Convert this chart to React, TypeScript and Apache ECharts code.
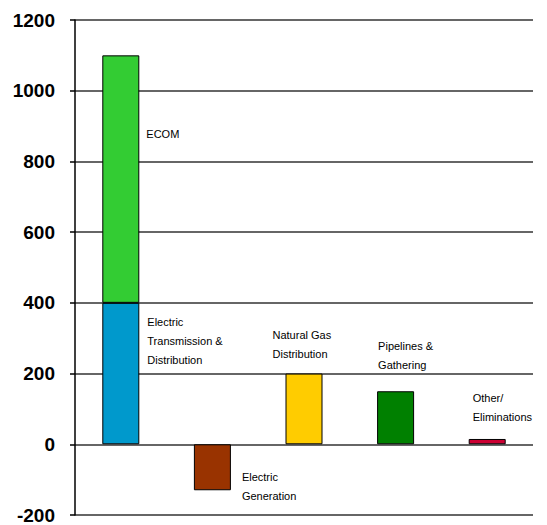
import React, { useEffect, useRef } from "react";
import * as echarts from "echarts";

const categories = [
  "Electric Transmission & Distribution",
  "Electric Generation",
  "Natural Gas Distribution",
  "Pipelines & Gathering",
  "Other/ Eliminations",
];
const segmentValues = [400, -130, 200, 150, 15];
const segmentColors = ["#0099CC", "#993300", "#FFCC00", "#008000", "#CC0033"];
const segmentLabels = [
  "Electric\nTransmission &\nDistribution",
  "Electric\nGeneration",
  "Natural Gas\nDistribution",
  "Pipelines &\nGathering",
  "Other/\nEliminations",
];
const labelOffsets: [number, number][] = [
  [45, 10],
  [48, 23],
  [-13, -48],
  [1, -55],
  [4, -50],
];
const ecomValues = [700, null, null, null, null];
const ecomLabel = "ECOM";
const yTicks = { min: -200, max: 1200, interval: 200 };

const FONT = "Arial, 'Liberation Sans', sans-serif";

export default function App() {
  const ref = useRef<HTMLDivElement>(null);
  useEffect(() => {
    if (!ref.current) return;
    const chart = echarts.init(ref.current, null, { renderer: "svg" });
    const labelStyle = {
      show: true,
      color: "#000",
      fontSize: 11,
      fontFamily: FONT,
      lineHeight: 19,
      align: "left" as const,
      verticalAlign: "top" as const,
    };
    chart.setOption({
      animation: false,
      grid: { left: 75, right: 14, top: 20, bottom: 10 },
      xAxis: {
        type: "category",
        data: categories,
        axisLine: { show: false },
        axisTick: { show: false },
        axisLabel: { show: false },
        splitLine: { show: false },
      },
      yAxis: {
        type: "value",
        min: yTicks.min,
        max: yTicks.max,
        interval: yTicks.interval,
        axisLine: { show: true, lineStyle: { color: "#000", width: 1.5 } },
        axisTick: { show: true, length: 5, lineStyle: { color: "#000", width: 1.5 } },
        axisLabel: {
          margin: 20,
          color: "#000",
          fontSize: 19,
          fontWeight: "bold",
          fontFamily: FONT,
          formatter: (v: number) => String(v),
        },
        splitLine: { show: true, lineStyle: { color: "#333", width: 1.5 } },
      },
      series: [
        {
          type: "bar",
          stack: "total",
          barWidth: 37,
          data: segmentValues.map((v, i) => ({
            value: v,
            itemStyle: { color: segmentColors[i], borderColor: "#000", borderWidth: 1 },
            label: {
              ...labelStyle,
              position: labelOffsets[i],
              formatter: segmentLabels[i],
            },
          })),
        },
        {
          type: "bar",
          stack: "total",
          barWidth: 37,
          itemStyle: { color: "#33CC33", borderColor: "#000", borderWidth: 1 },
          label: { ...labelStyle, position: [44, 69], formatter: ecomLabel },
          data: ecomValues,
        },
      ],
    });
    return () => chart.dispose();
  }, []);
  return (
    <div
      ref={ref}
      style={{ position: "fixed", left: 0, top: 0, width: 547, height: 525, background: "#fff" }}
    />
  );
}
